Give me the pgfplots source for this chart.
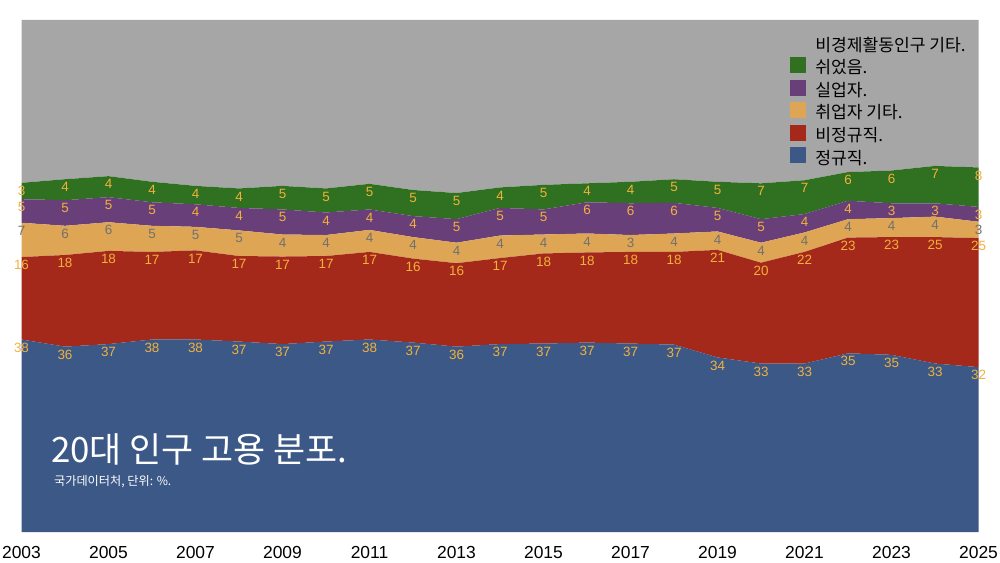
\documentclass[border=0pt]{standalone}
\usepackage{fontspec}
\setmainfont{Liberation Sans}
\newfontfamily\kr{Noto Sans CJK KR}
\usepackage{pgfplots}
\usepackage{pgfplotstable}
\pgfplotsset{compat=1.18}
\definecolor{cblue}{RGB}{59,88,135}
\definecolor{cred}{RGB}{165,41,26}
\definecolor{ctan}{RGB}{222,166,84}
\definecolor{cpurple}{RGB}{105,63,122}
\definecolor{cgreen}{RGB}{47,112,33}
\definecolor{cgray}{RGB}{166,166,166}
\definecolor{lorange}{RGB}{242,177,58}
\definecolor{lgray}{RGB}{112,112,112}

\pgfplotstableread{
year reg irr emp unemp rest oth
2003 37.6 16.1 6.7 4.6 3.2 31.8
2004 36.2 17.9 5.7 5.0 4.1 31.1
2005 36.7 18.2 5.6 4.9 4.1 30.5
2006 37.6 17.1 5.1 4.6 4.0 31.6
2007 37.6 17.4 4.6 4.4 3.6 32.4
2008 37.2 16.7 5.0 4.4 3.8 32.9
2009 36.7 17.1 4.3 4.9 4.6 32.4
2010 37.2 16.7 4.1 4.4 4.7 32.9
2011 37.6 17.1 4.3 4.0 5.0 32.0
2012 37.0 16.4 4.2 4.1 5.1 33.2
2013 36.2 16.3 4.0 4.6 5.1 33.8
2014 36.7 16.8 4.4 5.4 4.0 32.7
2015 36.8 17.6 3.7 4.9 4.8 32.2
2016 37.0 17.6 3.7 6.1 3.7 31.9
2017 36.8 17.9 3.3 6.2 4.2 31.6
2018 36.6 18.1 3.6 6.0 4.6 31.1
2019 34.1 21.0 3.6 4.6 5.1 31.6
2020 32.9 19.7 3.9 4.6 7.0 31.9
2021 32.9 21.8 3.8 3.6 6.6 31.3
2022 34.9 22.6 3.6 3.6 5.6 29.7
2023 34.6 23.0 3.7 2.9 6.4 29.4
2024 32.9 24.7 4.0 2.6 7.3 28.5
2025 32.2 25.2 3.2 2.9 7.7 28.8
}\data

\begin{document}
\begin{tikzpicture}
\path[use as bounding box] (0,0) rectangle (1000bp,563bp);
\begin{axis}[
  at={(21.5bp,31bp)}, anchor=south west,
  scale only axis, width=957bp, height=512bp,
  xmin=2003, xmax=2025, ymin=0, ymax=100,
  stack plots=y,
  clip=false,
  axis line style={draw=none},
  tick style={draw=none},
  major tick length=0pt,
  ytick=\empty,
  xtick={2003,2005,...,2025},
  /pgf/number format/assume math mode=true,
  xticklabel style={font=\fontsize{17.5}{20}\selectfont, anchor=base, yshift=-26bp, /pgf/number format/1000 sep={}},
  point meta=explicit,
  nodes near coords={\pgfmathprintnumber[fixed,precision=0]{\pgfplotspointmeta}},
  every node near coord/.append style={font=\fontsize{13.5}{16}\selectfont, text=lorange, anchor=center, yshift=-8bp, inner sep=0pt},
  reverse legend,
  legend cell align=left,
  legend image code/.code={\fill[#1] (0bp,-5.5bp) rectangle (16bp,10.5bp);},
  legend style={at={(0.800,0.976)}, anchor=north west, draw=none, fill=none,
    font=\kr\fontsize{17.2}{19}\selectfont, row sep=2.2bp,
    /tikz/every odd column/.append style={column sep=7bp}},
]
\addplot[fill=cblue, draw=none] table[x=year,y=reg,meta=reg]{\data} \closedcycle;
\addlegendentry{정규직.}
\addplot[fill=cred, draw=none] table[x=year,y=irr,meta=irr]{\data} \closedcycle;
\addlegendentry{비정규직.}
\addplot[fill=ctan, draw=none, every node near coord/.append style={text=lgray}] table[x=year,y=emp,meta=emp]{\data} \closedcycle;
\addlegendentry{취업자 기타.}
\addplot[fill=cpurple, draw=none] table[x=year,y=unemp,meta=unemp]{\data} \closedcycle;
\addlegendentry{실업자.}
\addplot[fill=cgreen, draw=none] table[x=year,y=rest,meta=rest]{\data} \closedcycle;
\addlegendentry{쉬었음.}
\addplot[fill=cgray, draw=none, nodes near coords={}] table[x=year,y=oth,meta=oth]{\data} \closedcycle;
\addlegendentry{비경제활동인구 기타.}
\end{axis}
\node[anchor=base west, text=white, font=\kr\fontsize{35}{40}\selectfont, inner sep=0pt] at (51bp,100bp) {20대 인구 고용 분포.};
\node[anchor=base west, text=white, font=\kr\fontsize{12.2}{14}\selectfont, inner sep=0pt] at (54bp,77bp) {국가데이터처, 단위: \%.};
\end{tikzpicture}
\end{document}
